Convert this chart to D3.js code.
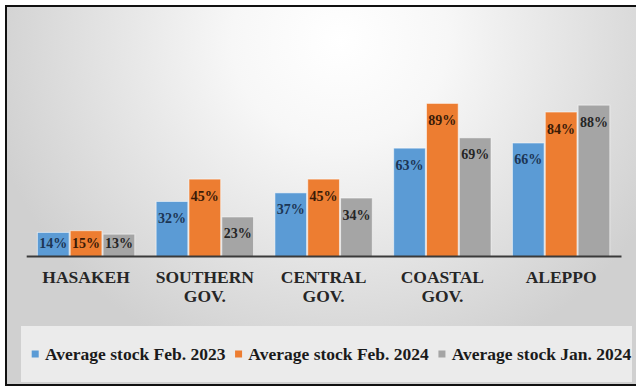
<!DOCTYPE html>
<html>
<head>
<meta charset="utf-8">
<script src="https://cdn.jsdelivr.net/npm/d3@7"></script>
<style>
  html, body { margin: 0; padding: 0; background: #ffffff; }
  svg { display: block; }
</style>
</head>
<body>
<svg id="chart" width="636" height="387"></svg>
<script>
// Regions (two-line labels split on "|")
const categories = ["HASAKEH", "SOUTHERN|GOV.", "CENTRAL|GOV.", "COASTAL|GOV.", "ALEPPO"];
const seriesNames = ["Average stock Feb. 2023", "Average stock Feb. 2024", "Average stock Jan. 2024"];
// Average stock level, percent
const stockFeb2023 = [14, 32, 37, 63, 66];
const stockFeb2024 = [15, 45, 45, 89, 84];
const stockJan2024 = [13, 23, 34, 69, 88];

const seriesValues = [stockFeb2023, stockFeb2024, stockJan2024];
const colors = ["#5b9bd5", "#ed7d31", "#a5a5a5"];
const labelColors = ["#1c3554", "#3a1a06", "#262626"];
const serif = "'Liberation Serif', 'Times New Roman', serif";

const svg = d3.select("#chart");
const W = 636, H = 387;

// Background panel with soft radial shading
const defs = svg.append("defs");
const grad = defs.append("radialGradient")
  .attr("id", "panelShade")
  .attr("gradientUnits", "userSpaceOnUse")
  .attr("cx", 340).attr("cy", 40).attr("r", 360)
  .attr("gradientTransform", "translate(340,40) scale(1,0.95) translate(-340,-40)");
grad.append("stop").attr("offset", 0).attr("stop-color", "#ffffff");
grad.append("stop").attr("offset", 0.3).attr("stop-color", "#f7f7f7");
grad.append("stop").attr("offset", 1).attr("stop-color", "#d0d0d0");

svg.append("rect").attr("width", W).attr("height", H).attr("fill", "#ffffff");
svg.append("rect")
  .attr("x", 6).attr("y", 6).attr("width", 640).attr("height", 379)
  .attr("fill", "url(#panelShade)")
  .attr("stroke", "#111111").attr("stroke-width", 2);

// Scales
const plotLeft = 26.7, plotRight = 620.5;
const baseY = 256.5, topY = 84.5;
const x0 = d3.scaleBand().domain(categories).range([plotLeft, plotRight])
  .paddingInner(0.18).paddingOuter(0.09);
const x1 = d3.scaleBand().domain(d3.range(seriesNames.length))
  .range([0, x0.bandwidth()]).paddingInner(0.035);
const y = d3.scaleLinear().domain([0, 100]).range([baseY, topY]);

// Bars
const groups = svg.append("g").selectAll("g")
  .data(categories)
  .join("g")
  .attr("transform", d => `translate(${x0(d)},0)`);

groups.selectAll("rect")
  .data((c, i) => seriesValues.map((vals, s) => ({ s, v: vals[i] })))
  .join("rect")
  .attr("x", d => x1(d.s))
  .attr("width", x1.bandwidth())
  .attr("y", d => y(d.v))
  .attr("height", d => baseY - y(d.v))
  .attr("fill", d => colors[d.s])
  .attr("stroke", "rgba(255,255,255,0.55)")
  .attr("stroke-width", 1);

// Value labels near the top inside each bar
groups.selectAll("text")
  .data((c, i) => seriesValues.map((vals, s) => ({ s, v: vals[i] })))
  .join("text")
  .attr("x", d => x1(d.s) + x1.bandwidth() / 2)
  .attr("y", d => Math.min(y(d.v) + 21.5, baseY - 9))
  .attr("text-anchor", "middle")
  .attr("font-family", serif)
  .attr("font-weight", "bold")
  .attr("font-size", 14)
  .attr("fill", d => labelColors[d.s])
  .text(d => d.v + "%");

// Category axis
const axis = svg.append("g")
  .attr("transform", `translate(0,${baseY})`)
  .call(d3.axisBottom(x0).tickSize(0).tickPadding(0).tickFormat(""));
axis.select(".domain").attr("stroke", "#3a3a3a").attr("stroke-width", 2.2)
  .attr("d", `M${plotLeft},0H${plotRight + 1}`);

axis.selectAll(".tick").each(function (d) {
  const t = d3.select(this).append("text")
    .attr("fill", "#262626")
    .attr("font-family", serif)
    .attr("font-weight", "bold")
    .attr("font-size", 17.5)
    .attr("text-anchor", "middle");
  d.split("|").forEach((line, k) => {
    t.append("tspan").attr("x", 0).attr("y", 26.5 + k * 19).text(line);
  });
});

// Legend
svg.append("rect")
  .attr("x", 21).attr("y", 326).attr("width", 611).attr("height", 56)
  .attr("fill", "#ebebeb");

const legend = svg.append("g").attr("transform", "translate(31.7,0)");
let lx = 0;
seriesNames.forEach((name, s) => {
  const item = legend.append("g").attr("transform", `translate(${lx},0)`);
  item.append("rect")
    .attr("x", 0).attr("y", 350.5).attr("width", 7).attr("height", 7)
    .attr("fill", colors[s]);
  const t = item.append("text")
    .attr("x", 13.3).attr("y", 359.5)
    .attr("font-family", serif)
    .attr("font-weight", "bold")
    .attr("font-size", 17.5)
    .attr("fill", "#1a1a1a")
    .text(name);
  lx += 13.3 + t.node().getComputedTextLength() + 9.6;
});
</script>
</body>
</html>
